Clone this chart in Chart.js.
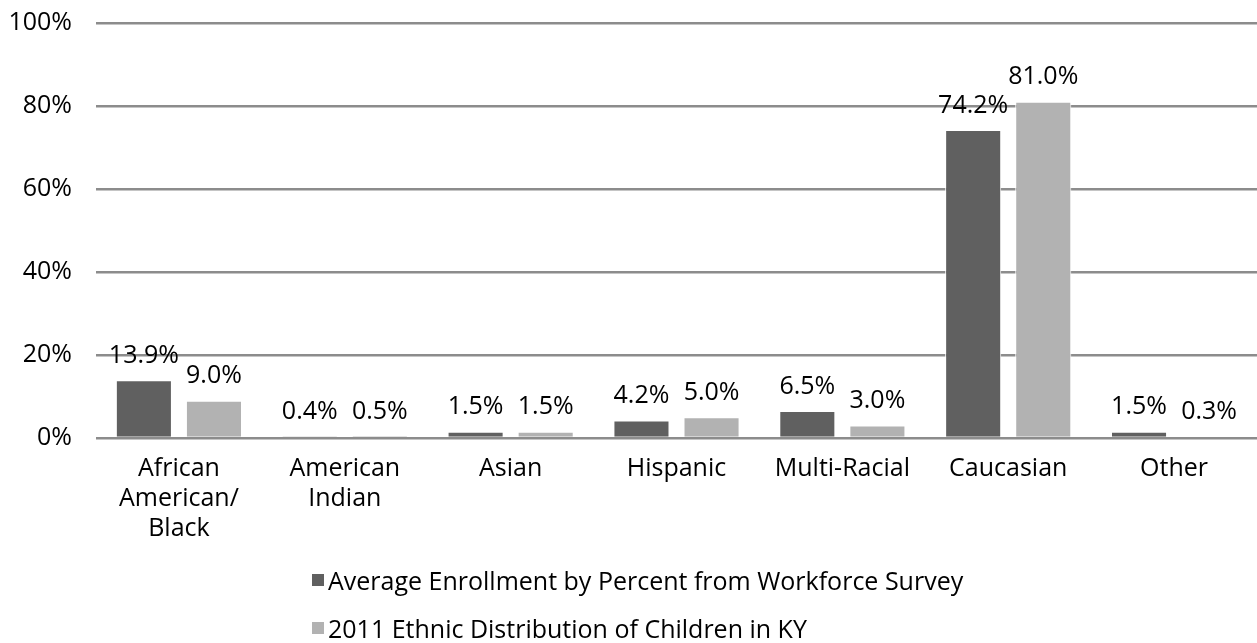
<!DOCTYPE html>
<html>
<head>
<meta charset="utf-8">
<script src="https://cdn.jsdelivr.net/npm/chart.js@4"></script>
<style>
  html, body { margin: 0; padding: 0; background: #fff; }
  .wrap { position: relative; width: 1257px; height: 643px; }
  #chart { display: block; }
  .legend {
    position: absolute; left: 312px; top: 562px;
    font-family: "Open Sans", sans-serif; font-size: 25px; color: #000;
  }
  .legend__item { display: flex; align-items: center; height: 36px; margin-bottom: 12px; }
  .legend__box { width: 12px; height: 12px; margin-right: 4px; }
</style>
</head>
<body>
<div class="wrap">
  <canvas id="chart" width="1257" height="643"></canvas>
  <div class="legend" id="legend"></div>
</div>
<script>
// ── Data ─────────────────────────────────────────────────────────────────
const categories = [
    ['African', 'American/', 'Black'],
    ['American', 'Indian'],
    'Asian',
    'Hispanic',
    'Multi-Racial',
    'Caucasian',
    'Other',
];
const seriesNames  = [
    'Average Enrollment by Percent from Workforce Survey',
    '2011 Ethnic Distribution of Children in KY',
];
const enrollment   = [13.9, 0.4, 1.5, 4.2, 6.5, 74.2, 1.5];
const distribution = [9.0, 0.5, 1.5, 5.0, 3.0, 81.0, 0.3];
const yTicks       = [0, 20, 40, 60, 80, 100];

const FONT = '"Open Sans", sans-serif';
const colors = ['#606060', '#b2b2b2'];

// value labels above each bar
const barLabels = {
    id: 'barLabels',
    afterDatasetsDraw(chart) {
        const ctx = chart.ctx;
        ctx.save();
        ctx.font = '25px ' + FONT;
        ctx.fillStyle = '#000';
        ctx.textAlign = 'center';
        ctx.textBaseline = 'bottom';
        chart.data.datasets.forEach((ds, i) => {
            chart.getDatasetMeta(i).data.forEach((bar, j) => {
                ctx.fillText(ds.data[j].toFixed(1) + '%', bar.x, bar.y - 12);
            });
        });
        ctx.restore();
    },
};

const chart = new Chart(document.getElementById('chart'), {
    type: 'bar',
    data: {
        labels: categories,
        datasets: [
            { label: seriesNames[0], data: enrollment,   backgroundColor: colors[0] },
            { label: seriesNames[1], data: distribution, backgroundColor: colors[1] },
        ].map(ds => Object.assign(ds, {
            borderColor: '#ffffff',
            borderWidth: 1,
            categoryPercentage: 0.845,
            barPercentage: 0.8,
        })),
    },
    options: {
        responsive: false,
        animation: false,
        layout: { padding: { top: 23, bottom: 85, left: 0, right: 0 } },
        plugins: {
            legend: { display: false },
            tooltip: { enabled: false },
        },
        scales: {
            x: {
                grid: { display: false },
                border: { display: false },
                ticks: {
                    color: '#000',
                    font: { family: FONT, size: 25, lineHeight: 1.2 },
                    padding: 8,
                    maxRotation: 0,
                    autoSkip: false,
                },
                afterFit: s => { s.height = 120; s.paddingLeft = 0; s.paddingRight = 0; },
            },
            y: {
                min: 0,
                max: 100,
                afterBuildTicks: s => { s.ticks = yTicks.map(v => ({ value: v })); },
                grid: { color: '#8c8c8c', lineWidth: 2.5, drawTicks: false },
                border: { display: false },
                ticks: {
                    color: '#000',
                    font: { family: FONT, size: 25 },
                    padding: 24,
                    callback: v => v + '%',
                },
                afterFit: s => { s.width = 96; s.paddingTop = 0; s.paddingBottom = 0; },
            },
        },
    },
    plugins: [barLabels],
});

// legend stacked in two rows below the plot
const legendEl = document.getElementById('legend');
chart.data.datasets.forEach(ds => {
    const item = document.createElement('div');
    item.className = 'legend__item';
    item.innerHTML = `<span class="legend__box" style="background:${ds.backgroundColor}"></span><span>${ds.label}</span>`;
    legendEl.appendChild(item);
});
</script>
</body>
</html>
